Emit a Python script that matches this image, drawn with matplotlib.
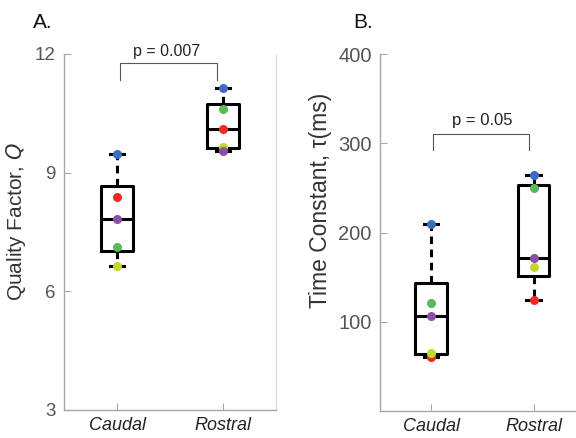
import numpy as np
import matplotlib
matplotlib.use("Agg")
import matplotlib.pyplot as plt

plt.rcParams['font.family'] = ['Liberation Sans', 'DejaVu Sans']

groups = ["Caudal", "Rostral"]
point_names = ["blue", "red", "green", "yellow", "purple"]
point_colors = ["#3b6cc4", "#ee2a24", "#5cb85b", "#c4d62c", "#8b4fa6"]

# Quality factor Q (panel A): values per point, Caudal / Rostral
q_caudal = [9.47, 8.39, 7.13, 6.64, 7.82]
q_rostral = [11.13, 10.11, 10.60, 9.66, 9.55]

# Time constant tau in ms (panel B)
tau_caudal = [210, 61, 121, 65, 106]
tau_rostral = [264, 124, 250, 161, 171]

p_text_a = "p = 0.007"
p_text_b = "p = 0.05"


def stats(vals, label):
    v = np.asarray(vals, float)
    q1, med, q3 = np.percentile(v, [25, 50, 75], method="hazen")
    return dict(med=med, q1=q1, q3=q3, whislo=v.min(), whishi=v.max(),
                fliers=[], label=label)


fig = plt.figure(figsize=(5.76, 4.38), dpi=100)
axA = fig.add_axes([64/576, 1-410/438, 212/576, 356/438])
axB = fig.add_axes([380/576, 1-411/438, 204.7/576, 357/438])

spine_col = "#a8a8a8"


def draw(ax, cvals, rvals, ticksize):
    bst = [stats(cvals, groups[0]), stats(rvals, groups[1])]
    ax.bxp(bst, positions=[1, 2], widths=0.31, showfliers=False,
           boxprops=dict(color="black", lw=2.2),
           medianprops=dict(color="black", lw=2.2),
           whiskerprops=dict(color="black", lw=2.2, linestyle=(0, (2.5, 1.8))),
           capprops=dict(color="black", lw=2.2), capwidths=0.14)
    for pos, vals in zip([1, 2], [cvals, rvals]):
        for v, c in zip(vals, point_colors):
            ax.plot(pos, v, 'o', color=c, ms=6.5, mec='none', zorder=5)
    ax.set_xlim(0.5, 2.5)
    ax.set_xticks([1, 2])
    ax.set_xticklabels(groups, fontstyle='italic', fontsize=13, color="#222222")
    ax.tick_params(direction='in', length=5, color=spine_col, labelcolor="#555555",
                   labelsize=ticksize, pad=6)
    ax.tick_params(axis='x', labelcolor="#222222", labelsize=13, pad=5)
    ax.spines['top'].set_visible(False)
    for s in ['left', 'bottom']:
        ax.spines[s].set_color(spine_col)
        ax.spines[s].set_linewidth(1.0)


draw(axA, q_caudal, q_rostral, 13.5)
axA.set_ylim(3, 12)
axA.set_yticks([3, 6, 9, 12])
axA.spines['right'].set_color("#d8d8d8")
axA.set_ylabel("Quality Factor, $\\mathit{Q}$", fontsize=15, color="#333333")
axA.yaxis.set_label_coords(-0.17, 0.53)
axA.plot([1.03, 1.03, 1.94, 1.94], [11.34, 11.76, 11.76, 11.34], color="#555555",
         lw=0.8, clip_on=False)
axA.text(1.47, 12.06, p_text_a, ha='center', va='center', fontsize=11.5,
         color="#222222", clip_on=False)

draw(axB, tau_caudal, tau_rostral, 14.5)
axB.set_ylim(0, 400)
axB.set_yticks([100, 200, 300, 400])
axB.spines['right'].set_visible(False)
axB.set_ylabel("Time Constant, τ(ms)", fontsize=16.5, color="#333333")
axB.yaxis.set_label_coords(-0.234, 0.59)
axB.plot([1.02, 1.02, 1.96, 1.96], [292.7, 310.6, 310.6, 292.7], color="#555555",
         lw=0.8, clip_on=False)
axB.text(1.5, 326, p_text_b, ha='center', va='center', fontsize=12,
         color="#222222")

fig.text(33/576, 1-22/438, "A.", fontsize=15, va='center', ha='left', color="#111111")
fig.text(353/576, 1-22/438, "B.", fontsize=15, va='center', ha='left', color="#111111")

fig.savefig("out.png", dpi=100)
